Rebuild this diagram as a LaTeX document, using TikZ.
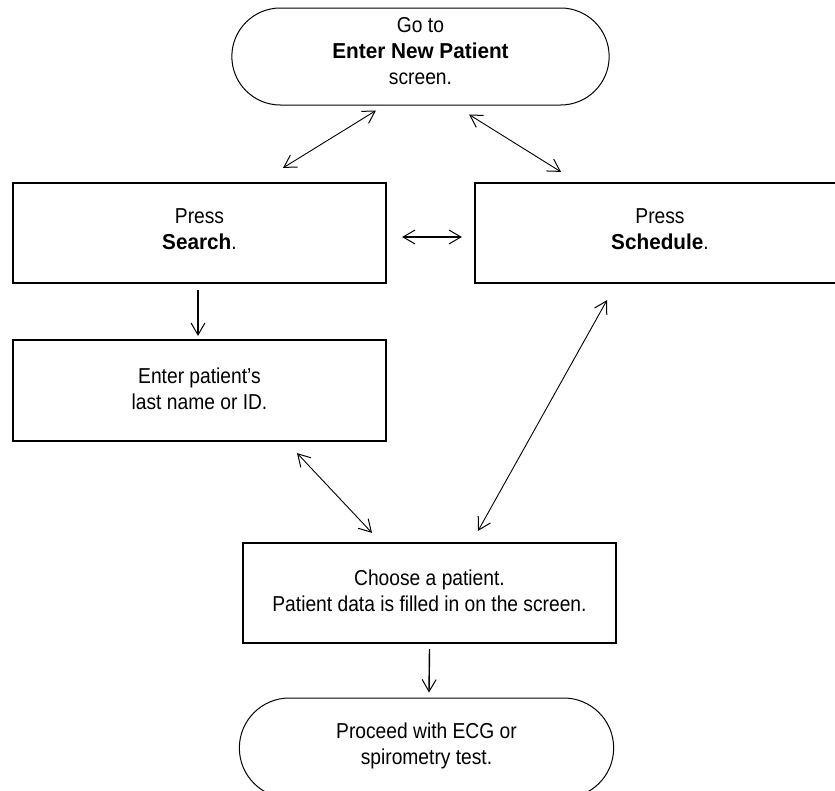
\documentclass[tikz,border=0pt]{standalone}
\usepackage{fontspec}
\setmainfont[FakeStretch=0.89,BoldFeatures={FakeStretch=0.96}]{Liberation Sans}
\usetikzlibrary{arrows.meta,shapes.misc}
\begin{document}
\begin{tikzpicture}[x=1pt,y=-1pt,
  txt/.style={font=\fontsize{21.6}{26}\selectfont, align=center, inner sep=0pt},
  termbox/.style={draw, line width=1pt, rounded rectangle, rounded rectangle arc length=180, minimum width=384pt, minimum height=97pt},
  stepbox/.style={draw, line width=2.2pt, rectangle, minimum width=373pt, minimum height=100pt},
  barb/.tip={Straight Barb[length=12pt,width=14pt,line width=1pt]},
  thinlink/.style={line width=0.9pt, barb-barb},
  thicklink/.style={line width=1.4pt, -barb},
  thickboth/.style={line width=1.4pt, barb-barb}
]
\begin{scope}
\clip (0,0) rectangle (835,790);
\node[termbox, label={[txt,yshift=5.7pt]center:Go to\\\textbf{Enter New Patient}\\screen.}] (top) at (420.5,56.5) {};
\node[stepbox, label={[txt,yshift=3.5pt]center:Press\\\textbf{Search}.}] (search) at (199.5,233) {};
\node[stepbox, minimum width=370pt, label={[txt,yshift=3.5pt]center:Press\\\textbf{Schedule}.}] (sched) at (660,233) {};
\node[stepbox, minimum height=101pt, label={[txt,yshift=1.7pt]center:Enter patient’s\\last name or ID.}] (enter) at (199.5,390.5) {};
\node[stepbox, label={[txt,yshift=2.3pt]center:Choose a patient.\\Patient data is filled in on the screen.}] (choose) at (429.5,593) {};
\node[termbox, minimum width=381pt, minimum height=100pt, label={[txt,yshift=2.5pt]center:Proceed with ECG or\\spirometry test.}] (bottom) at (426.5,748) {};

\draw[thinlink] ([xshift=83.5pt,yshift=14pt]search.north) -- ([xshift=-44.5pt,yshift=-5pt]top.south);
\draw[thinlink] ([xshift=48.5pt,yshift=-9pt]top.south) -- ([xshift=-99pt,yshift=10pt]sched.north);
\draw[thickboth] ([xshift=15pt,yshift=-4pt]search.east) -- ([xshift=-12pt,yshift=-4pt]sched.west);
\draw[thicklink] ([xshift=-1.5pt,yshift=-6pt]search.south) -- ([xshift=-1.5pt,yshift=3pt]enter.north);
\draw[thinlink] ([xshift=97.5pt,yshift=-11pt]enter.south) -- ([xshift=-57.5pt,yshift=9pt]choose.north);
\draw[thinlink] ([xshift=-53pt,yshift=-16pt]sched.south) -- ([xshift=48.5pt,yshift=11pt]choose.north);
\draw[thicklink] ([yshift=-5pt]choose.south) -- ([xshift=2.5pt,yshift=5pt]bottom.north);
\end{scope}
\pgfresetboundingbox
\useasboundingbox (0,0) rectangle (835,790);
\end{tikzpicture}
\end{document}
